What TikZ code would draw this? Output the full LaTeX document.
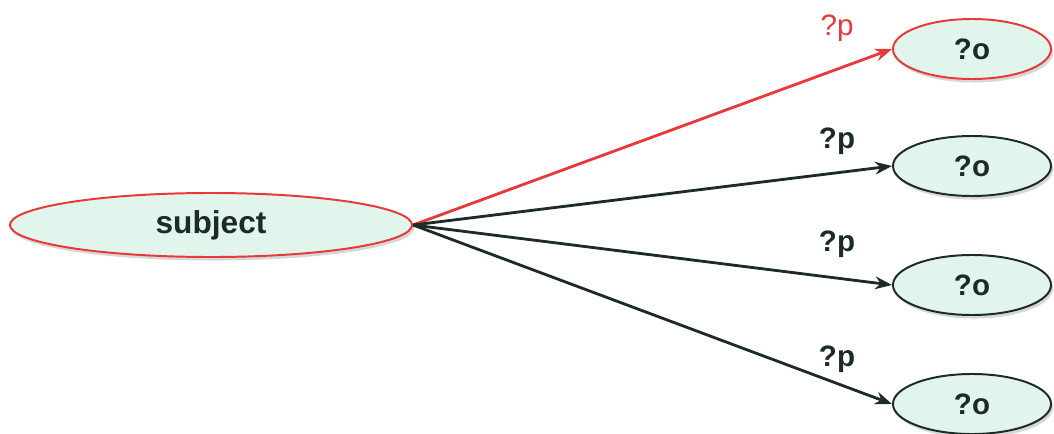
\documentclass[tikz,border=0pt]{standalone}
\usepackage{fontspec}
\newfontfamily\qsans{Liberation Sans}
\usepackage{tikz}
\usetikzlibrary{shapes.geometric,arrows.meta,shadows}
\definecolor{qfill}{HTML}{E2F5EC}
\definecolor{qred}{HTML}{E8393A}
\definecolor{qdark}{HTML}{1C2B28}
\tikzset{
 q node/.style={ellipse,fill=qfill,line width=1.4pt,inner sep=0pt,
                font=\qsans\bfseries\fontsize{21}{23}\selectfont,text=qdark,
                drop shadow={shadow xshift=1.5pt,shadow yshift=-2.5pt,
                             fill=gray!70,opacity=.45}},
 q subject/.style={q node,draw=qred,minimum width=10.05cm,minimum height=1.6cm,
                   font=\qsans\bfseries\fontsize{22.5}{24}\selectfont},
 q object/.style={q node,minimum width=3.95cm,minimum height=1.5cm},
 q edge/.style={line width=2pt,-{Stealth[length=12pt,width=9pt]}},
 q label/.style={font=\qsans\fontsize{21}{23}\selectfont}
}
\begin{document}
\begin{tikzpicture}[x=0.025cm,y=-0.025cm]
 \useasboundingbox (0,0) rectangle (1054,434);
 \node[q subject] (subj) at (211,225) {subject};
 % objects, predicates and edges
 \foreach \i/\y/\ly/\c/\w in {1/49/28/qred/\mdseries,2/166/141/qdark/\bfseries,
                               3/285/244/qdark/\bfseries,4/404/359/qdark/\bfseries}{
   \node[q object,draw=\c] (o\i) at (972,\y) {?o};
   \node[q label,text=\c] (p\i) at (837,\ly) {\w ?p};
   \draw[q edge,draw=\c,fill=\c] (subj.east) -- (o\i.west);
 }
\end{tikzpicture}
\end{document}
